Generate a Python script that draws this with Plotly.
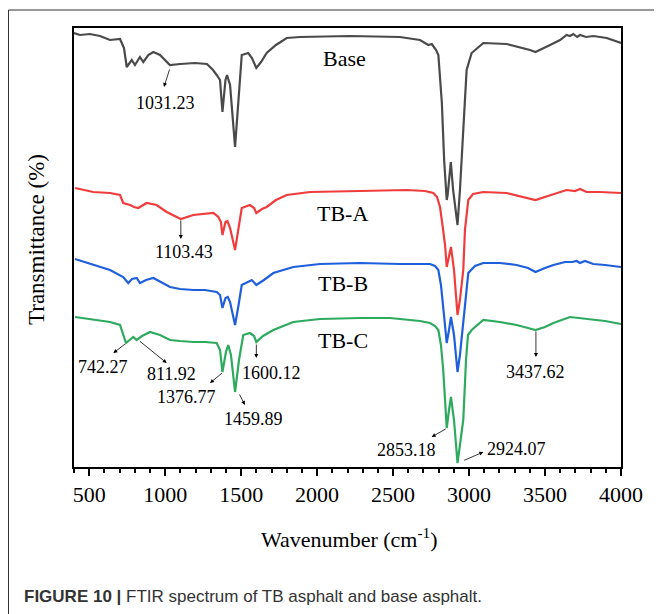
import plotly.graph_objects as go

# Wavenumber (cm-1) and relative transmittance (arbitrary units, offset per curve)
base_x = [400, 439, 505, 571, 637, 703, 729, 747, 780, 801, 834, 856, 889, 922, 966, 1010, 1031, 1098, 1196, 1275,
          1315, 1339, 1361, 1377, 1397, 1407, 1427, 1460, 1483, 1504, 1547, 1571, 1600, 1631, 1668, 1729, 1800, 1887,
          2216, 2545, 2677, 2732, 2755, 2783, 2798, 2821, 2836, 2853, 2859, 2880, 2895, 2924, 2940, 2960, 2984, 3017,
          3094, 3248, 3335, 3401, 3437, 3486, 3533, 3599, 3642, 3664, 3686, 3711, 3730, 3770, 3818, 3906, 4000]
base_y = [434, 432, 433, 431, 427, 428, 419, 400, 407, 402, 410, 405, 412, 415, 412, 405, 402, 403, 404, 403,
          397, 392, 387, 355, 387, 392, 382, 320, 367, 412, 414, 409, 399, 405, 414, 422, 429, 430,
          431, 430, 427, 422, 423, 417, 412, 364, 307, 267, 272, 305, 277, 242, 277, 337, 397, 414,
          424, 423, 420, 417, 415, 419, 422, 427, 432, 431, 433, 430, 432, 430, 431, 429, 424]

tba_x = [407, 527, 637, 703, 724, 769, 795, 823, 878, 944, 1010, 1058, 1103, 1185, 1262, 1317, 1350, 1367, 1377,
         1397, 1410, 1427, 1460, 1483, 1504, 1558, 1585, 1600, 1637, 1668, 1729, 1800, 1953, 2282, 2589, 2710,
         2765, 2789, 2809, 2825, 2842, 2853, 2868, 2881, 2901, 2924, 2940, 2962, 2973, 2995, 3026, 3094, 3248,
         3368, 3437, 3519, 3642, 3697, 3730, 3774, 3862, 4000]
tba_y = [279, 275, 274, 272, 264, 262, 260, 259, 264, 262, 255, 251, 248, 252, 253, 254, 250, 245, 232,
         245, 246, 239, 217, 239, 259, 262, 259, 254, 258, 260, 267, 272, 275, 276, 277, 276,
         274, 270, 260, 242, 222, 200, 212, 220, 197, 152, 167, 197, 237, 267, 273, 275, 274,
         270, 267, 271, 277, 276, 278, 275, 275, 274]

tbb_x = [407, 527, 637, 724, 757, 782, 813, 834, 874, 922, 979, 1032, 1098, 1185, 1262, 1339, 1361, 1377, 1397,
         1412, 1427, 1460, 1483, 1504, 1570, 1600, 1650, 1712, 1843, 2019, 2282, 2545, 2743, 2776, 2798, 2815,
         2835, 2853, 2868, 2881, 2901, 2924, 2940, 2962, 2980, 2995, 3039, 3094, 3203, 3313, 3388, 3437, 3500,
         3555, 3632, 3678, 3708, 3730, 3763, 3818, 3895, 4000]
tbb_y = [208, 202, 197, 190, 184, 188, 189, 184, 187, 189, 184, 180, 178, 177, 177, 175, 172, 159, 169,
         170, 165, 142, 162, 182, 187, 182, 187, 194, 200, 203, 204, 203, 203, 201, 197, 182,
         152, 124, 137, 150, 132, 95, 112, 147, 177, 194, 201, 204, 204, 202, 199, 195, 199,
         202, 205, 205, 206, 204, 206, 203, 202, 200]

tbc_x = [407, 527, 637, 703, 725, 742, 790, 812, 848, 900, 966, 1032, 1098, 1185, 1262, 1339, 1361, 1377, 1400,
         1415, 1433, 1460, 1486, 1514, 1558, 1585, 1600, 1644, 1712, 1843, 2019, 2282, 2480, 2677, 2743, 2776,
         2798, 2815, 2830, 2845, 2853, 2868, 2881, 2901, 2924, 2940, 2962, 2980, 2993, 3017, 3094, 3203, 3313,
         3388, 3437, 3500, 3555, 3664, 3730, 3818, 3895, 4000]
tbc_y = [150, 147, 145, 142, 132, 124, 130, 127, 131, 135, 132, 127, 126, 125, 125, 124, 117, 95, 115,
         122, 112, 75, 107, 132, 134, 131, 125, 131, 137, 145, 148, 149, 149, 146, 144, 141,
         137, 122, 97, 62, 39, 57, 70, 47, 4, 22, 47, 107, 132, 137, 147, 145, 142,
         139, 137, 140, 144, 150, 149, 147, 146, 143]

series_names = ["Base", "TB-A", "TB-B", "TB-C"]
series_colors = ["#4a4a4a", "#f03c3c", "#1f5fdc", "#2eaa5e"]
label_x = [2183, 2170, 2170, 2170]
label_y = [409, 254, 184, 127]

# peak annotations: label, tail (on curve), head (near label), text position
peak_labels = ["1031.23", "1103.43", "742.27", "811.92", "1376.77", "1459.89", "1600.12", "3437.62", "2853.18", "2924.07"]
peak_tail_x = [1032, 1103, 745, 823, 1383, 1484, 1600, 3440, 2857, 2958]
peak_tail_y = [399, 248, 124, 127, 95, 74, 124, 137, 39, 6]
peak_head_x = [992, 1103, 659, 1010, 1295, 1525, 1600, 3440, 2754, 3094]
peak_head_y = [380, 228, 114, 104, 84, 62, 109, 110, 30, 15]
peak_text_x = [999, 1124, 593, 1043, 1142, 1580, 1701, 3440, 2589, 3313]
peak_text_y = [364, 215, 100, 93, 70, 48, 94, 95, 17, 18]

tick_vals = [500, 1000, 1500, 2000, 2500, 3000, 3500, 4000]

xs = [base_x, tba_x, tbb_x, tbc_x]
ys = [base_y, tba_y, tbb_y, tbc_y]

serif = "Liberation Serif, Times New Roman, serif"

# figure geometry (page has an 8px body margin, compensated here)
W, H = 654, 606
L, R, T, B = 66, 41, 20, 147
PW, PH = W - L - R, H - T - B


def px(xf):
    return (xf - L) / PW


def py(yf):
    return (H - B - yf) / PH


fig = go.Figure()
for name, col, x, y in zip(series_names, series_colors, xs, ys):
    fig.add_trace(go.Scatter(x=x, y=y, mode="lines", name=name,
                             line=dict(color=col, width=2.2), showlegend=False))

annotations = []
for name, lx, ly in zip(series_names, label_x, label_y):
    annotations.append(dict(x=lx, y=ly, xref="x", yref="y", text=name, showarrow=False,
                            font=dict(family=serif, size=22, color="black")))
for t, tx, ty, hx, hy, tpx, tpy in zip(peak_labels, peak_tail_x, peak_tail_y, peak_head_x, peak_head_y,
                                       peak_text_x, peak_text_y):
    annotations.append(dict(x=hx, y=hy, ax=tx, ay=ty, xref="x", yref="y", axref="x", ayref="y",
                            text="", showarrow=True, arrowhead=2, arrowsize=1.0, arrowwidth=0.8,
                            arrowcolor="black", standoff=0, startstandoff=0))
    annotations.append(dict(x=tpx, y=tpy, xref="x", yref="y", text=t, showarrow=False,
                            font=dict(family=serif, size=18, color="black")))

# axis titles
annotations.append(dict(xref="paper", yref="paper", x=px(341), y=py(530), showarrow=False,
                        text="Wavenumber (cm<sup>-1</sup>)", xanchor="center", yanchor="middle",
                        font=dict(family=serif, size=22, color="black")))
annotations.append(dict(xref="paper", yref="paper", x=px(29), y=py(232), showarrow=False, textangle=-90,
                        text="Transmittance (%)", xanchor="center", yanchor="middle",
                        font=dict(family=serif, size=23, color="black")))
# caption
annotations.append(dict(xref="paper", yref="paper", x=px(14), y=py(588), showarrow=False,
                        xanchor="left", yanchor="middle",
                        text="<b>FIGURE 10 |</b> FTIR spectrum of TB asphalt and base asphalt.",
                        font=dict(family="Liberation Sans, Arial, sans-serif", size=17, color="#333333")))
fig.update_layout(annotations=annotations)

# outer figure frame (left and top edges visible)
fig.add_shape(type="line", xref="paper", yref="paper", x0=px(0.5), x1=px(0.5),
              y0=py(H + 10), y1=py(2), line=dict(color="#333333", width=1))
fig.add_shape(type="line", xref="paper", yref="paper", x0=px(0.5), x1=px(W + 10),
              y0=py(2), y1=py(2), line=dict(color="#333333", width=1))

fig.update_xaxes(range=[400, 4000], tickmode="array", tickvals=tick_vals,
                 ticks="outside", ticklen=7, tickwidth=2, tickcolor="black",
                 minor=dict(tickmode="array", tickvals=[v for v in range(400, 4001, 100) if v % 500 != 0],
                            ticks="outside", ticklen=4, tickwidth=1.5, tickcolor="black"),
                 showline=True, linewidth=2, linecolor="black", mirror=True, showgrid=False, zeroline=False,
                 tickfont=dict(family=serif, size=22, color="black"))
fig.update_yaxes(range=[0, 439], showticklabels=False, ticks="", showline=True, linewidth=2, linecolor="black",
                 mirror=True, showgrid=False, zeroline=False)

fig.update_layout(width=W, height=H, margin=dict(l=L, r=R, t=T, b=B),
                  plot_bgcolor="white", paper_bgcolor="white", showlegend=False)

fig.write_html("out.html")
